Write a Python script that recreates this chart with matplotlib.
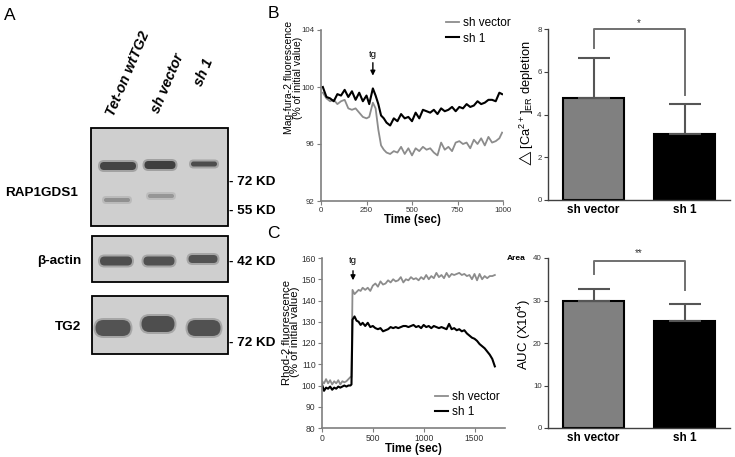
import matplotlib
matplotlib.use("Agg")
import matplotlib.pyplot as plt
from matplotlib.patches import Rectangle, FancyBboxPatch

plt.rcParams['font.family'] = ['Liberation Sans', 'DejaVu Sans']
plt.rcParams['mathtext.default'] = 'regular'

# ---- data ----
groups = ["sh vector", "sh 1"]

# B: Mag-fura-2 trace
b_time = [10, 30, 50, 70, 90, 110, 130, 150, 170, 190, 210, 230, 250, 265, 285, 300,
          315, 330, 345, 360, 380, 400, 420, 440, 460, 480, 500, 520, 540, 560, 580,
          600, 620, 640, 660, 680, 700, 720, 740, 760, 780, 800, 820, 840, 860, 880,
          900, 920, 940, 960, 980, 995]
b_vector = [99.6, 99.2, 99.0, 99.1, 98.8, 99.0, 99.1, 98.5, 98.4, 98.5, 98.2, 97.9, 97.8,
            97.9, 98.9, 98.5, 97.0, 95.9, 95.6, 95.4, 95.3, 95.5, 95.4, 95.8, 95.3, 95.7,
            95.2, 95.7, 95.5, 95.8, 95.6, 95.7, 95.4, 95.2, 96.1, 95.6, 95.8, 95.5, 96.1,
            96.2, 96.0, 96.1, 95.7, 96.3, 96.0, 96.4, 95.9, 96.5, 96.1, 96.2, 96.4, 96.8]
b_sh1 = [100.0, 99.3, 99.2, 99.0, 99.5, 99.4, 99.8, 99.3, 99.7, 99.1, 99.6, 99.0, 99.4,
         98.8, 99.9, 99.4, 98.8, 98.0, 97.8, 97.5, 97.3, 97.8, 97.6, 98.1, 97.8, 97.9,
         97.6, 98.2, 97.8, 98.4, 98.3, 98.2, 98.4, 98.1, 98.5, 98.3, 98.4, 98.6, 98.3,
         98.6, 98.5, 98.8, 98.6, 98.7, 99.0, 98.8, 98.9, 99.1, 99.1, 99.0, 99.6, 99.5]
b_tg = 285

# B: ER depletion bars
b_means = [4.75, 3.08]
b_errs = [1.87, 1.42]

# C: Rhod-2 trace
c_time = ([0, 20, 40, 60, 80, 100, 120, 140, 160, 180, 200, 220, 240, 260, 280, 290, 300,
           320, 340, 360, 380, 400] + list(range(425, 1701, 25)))
c_vector = [102, 101, 103, 101, 102.5, 100.5, 102, 101, 102.5, 100.5, 102, 101.5, 102, 103, 104,
            104, 145,
            143, 144, 145, 144.5, 146,
            145, 146, 144.5, 147, 148, 146.5, 149, 147.5, 148, 149.5, 148.5, 150, 149, 149.5,
            151, 148.5, 150, 149.5, 151, 150, 150.5, 149.5, 151, 150, 152, 150, 151.5, 150.5,
            153, 151, 152, 150.5, 153, 151, 152.5, 152, 152.5, 153, 152, 152.5, 151.5, 152,
            150, 152.5, 149.5, 152.5, 150, 151.5, 150.5, 151.5, 151.5, 152]
c_sh1 = [100.5, 97.5, 99, 98.5, 99.5, 98, 99, 98.5, 99.5, 99, 99.5, 100, 99.5, 100, 100,
         100.5, 131,
         132.5, 130.5, 130, 128.5, 129.5,
         128, 129.5, 127.5, 128, 127, 126.5, 127, 125.5, 126, 126.5, 127.5, 127, 127.5, 127,
         127.5, 128, 128, 127.5, 128, 128.5, 127.5, 128, 127, 128.5, 127.5, 128, 127, 128,
         127.5, 127, 127.5, 127, 126.5, 129, 126.5, 127, 126, 126.5, 125.5, 126, 124.5, 123.5,
         122.5, 122, 121, 119.5, 118.5, 117.5, 116, 114.5, 112.5, 109]
c_tg = 305

# C: AUC bars
c_means = [29.8, 25.2]
c_errs = [3.0, 4.0]

bar_colors = ["#808080", "#000000"]
line_colors = ["#8c8c8c", "#000000"]

W, H = 735, 457
fig = plt.figure(figsize=(W / 100, H / 100), dpi=100)


def px_axes(x0, y0, x1, y1):
    return fig.add_axes([x0 / W, 1 - y1 / H, (x1 - x0) / W, (y1 - y0) / H])


# ---- panel A: blots drawn in pixel space ----
ax0 = fig.add_axes([0, 0, 1, 1])
ax0.set_xlim(0, W)
ax0.set_ylim(H, 0)
ax0.axis("off")

blots = [  # box x0, y0, x1, y1
    (91, 128, 228, 226),
    (92, 236, 228, 282),
    (92, 296, 228, 354),
]
# bands: (center x, center y, width, height, color)
bands = [
    (118, 166, 38, 10, "#3a3a3a"), (160, 165, 33, 10, "#353535"), (204, 164, 28, 7, "#444444"),
    (117, 200, 28, 6, "#8c8c8c"), (161, 196, 28, 6, "#929292"),
    (116, 261, 34, 11, "#454545"), (159, 261, 33, 11, "#484848"), (203, 259, 31, 10, "#4a4a4a"),
    (113, 328, 37, 18, "#4a4a4a"), (158, 324, 35, 18, "#454545"), (204, 328, 35, 18, "#484848"),
]
for x0, y0, x1, y1 in blots:
    ax0.add_patch(Rectangle((x0, y0), x1 - x0, y1 - y0, facecolor="#cfcfcf",
                            edgecolor="black", lw=1.3))
for cx, cy, w, h, col in bands:
    ax0.add_patch(FancyBboxPatch((cx - w / 2 - 1, cy - h / 2 - 1), w + 2, h + 2,
                                 boxstyle=f"round,pad=0,rounding_size={h / 2 + 1}",
                                 facecolor=col, edgecolor="none", alpha=0.3))
    ax0.add_patch(FancyBboxPatch((cx - w / 2 + 1, cy - h / 2 + 1), w - 2, h - 2,
                                 boxstyle=f"round,pad=0,rounding_size={max(h / 2 - 1, 0.5)}",
                                 facecolor=col, edgecolor="none", alpha=0.9))

bold = dict(fontweight="bold", fontsize=9.7)
ax0.text(5, 193, "RAP1GDS1", ha="left", va="center", **bold)
ax0.text(81, 261, "β-actin", ha="right", va="center", **bold)
ax0.text(81, 327, "TG2", ha="right", va="center", **bold)
for y, s in [(182, "- 72 KD"), (211, "- 55 KD"), (262, "- 42 KD"), (343, "- 72 KD")]:
    ax0.text(229, y, s, ha="left", va="center", **bold)
for x, y, s in [(114, 117, "Tet-on wtTG2"), (159, 114, "sh vector"), (202, 87, "sh 1")]:
    ax0.text(x, y, s, rotation=67, rotation_mode="anchor", ha="left", va="baseline",
             fontweight="bold", fontstyle="italic", fontsize=10.3)
ax0.text(10, 15, "A", fontsize=12.5, ha="center", va="center")
ax0.text(273, 13, "B", fontsize=12.5, ha="center", va="center")
ax0.text(273, 233, "C", fontsize=12.5, ha="center", va="center")


def style_line_axes(ax, tick_size):
    for s in ["top", "right"]:
        ax.spines[s].set_visible(False)
    for s in ["left", "bottom"]:
        ax.spines[s].set_color("#7f7f7f")
        ax.spines[s].set_linewidth(1.2)
    ax.tick_params(length=3, width=0.8, color="#7f7f7f", labelsize=tick_size, pad=1.5,
                   labelcolor="#333333")


def style_bar_axes(ax):
    for s in ["top", "right"]:
        ax.spines[s].set_visible(False)
    for s in ["left", "bottom"]:
        ax.spines[s].set_color("#404040")
        ax.spines[s].set_linewidth(1.0)
    ax.tick_params(axis="y", length=3, width=0.8, color="#404040", labelsize=5.7, pad=1.5,
                   labelcolor="#333333")
    ax.tick_params(axis="x", length=0, pad=3)


# ---- B line ----
axb = px_axes(321, 30, 503, 201)
axb.plot(b_time, b_vector, color=line_colors[0], lw=1.3, label=groups[0])
axb.plot(b_time, b_sh1, color=line_colors[1], lw=1.5, label=groups[1])
axb.set_xlim(0, 1000)
axb.set_ylim(92, 104)
axb.set_xticks([0, 250, 500, 750, 1000])
axb.set_yticks([92, 96, 100, 104])
style_line_axes(axb, 5.7)
axb.set_xlabel("Time (sec)", fontweight="bold", fontsize=8.3, labelpad=0)
axb.set_ylabel("Mag-fura-2 fluorescence\n(% of initial value)", fontsize=7.5,
               linespacing=0.85)
axb.yaxis.set_label_coords(-0.1, 0.72)
axb.annotate("", xy=(b_tg, 100.6), xytext=(b_tg, 101.9),
             arrowprops=dict(arrowstyle="-|>", color="black", lw=1, mutation_scale=7))
axb.text(b_tg, 102.3, "tg", ha="center", va="center", fontsize=6.8)
axb.legend(loc="upper left", bbox_to_anchor=(446 / W, 1 - 17 / H),
           bbox_transform=fig.transFigure, frameon=False, fontsize=8.5,
           handlelength=1.1, handletextpad=0.3, labelspacing=0.3, borderpad=0,
           borderaxespad=0)

# ---- B bars ----
axbb = px_axes(548, 29, 730, 200)
xpos = [0, 1]
axbb.bar(xpos, b_means, width=0.67, color=bar_colors, edgecolor="black", lw=1.5, zorder=2)
for x, m, e in zip(xpos, b_means, b_errs):
    axbb.errorbar(x, m, yerr=[[0], [e]], color="#555555", lw=1.5, capsize=11.5,
                  capthick=1.5, zorder=3)
axbb.set_xlim(-0.5, 1.5)
axbb.set_ylim(0, 8)
axbb.set_yticks([0, 2, 4, 6, 8])
axbb.set_xticks(xpos)
axbb.set_xticklabels(groups, fontweight="bold", fontsize=8.5)
style_bar_axes(axbb)
axbb.set_ylabel(r"$\triangle$[Ca$^{2+}$]$_{ER}$ depletion", fontsize=9.3)
axbb.yaxis.set_label_coords(-0.068, 0.56)
axbb.plot([0, 0, 1, 1], [7.1, 8.0, 8.0, 4.9], color="#707070", lw=1.4, clip_on=False)
axbb.text(0.5, 8.05, "*", ha="center", va="bottom", fontsize=7, color="#333333")

# ---- C line ----
axc = px_axes(322, 258, 505, 428)
axc.plot(c_time, c_vector, color=line_colors[0], lw=1.3, label=groups[0])
axc.plot(c_time, c_sh1, color=line_colors[1], lw=1.5, label=groups[1])
axc.set_xlim(0, 1800)
axc.set_ylim(80, 160)
axc.set_xticks([0, 500, 1000, 1500])
axc.set_yticks(range(80, 161, 10))
style_line_axes(axc, 6.2)
axc.set_xlabel("Time (sec)", fontweight="bold", fontsize=8.3, labelpad=0)
axc.set_ylabel("Rhod-2 fluorescence\n(% of initial value)", fontsize=8.2, linespacing=0.85)
axc.yaxis.set_label_coords(-0.118, 0.565)
axc.annotate("", xy=(c_tg, 148.2), xytext=(c_tg, 155.3),
             arrowprops=dict(arrowstyle="-|>", color="black", lw=1, mutation_scale=7))
axc.text(c_tg, 159, "tg", ha="center", va="center", fontsize=6.8)
axc.legend(loc="upper left", bbox_to_anchor=(435 / W, 1 - 391 / H),
           bbox_transform=fig.transFigure, frameon=False, fontsize=8.5,
           handlelength=1.1, handletextpad=0.3, labelspacing=0.25, borderpad=0,
           borderaxespad=0)

# ---- C bars ----
axcb = px_axes(548, 258, 730, 428)
axcb.bar(xpos, c_means, width=0.67, color=bar_colors, edgecolor="black", lw=1.5, zorder=2)
for x, m, e in zip(xpos, c_means, c_errs):
    axcb.errorbar(x, m, yerr=[[0], [e]], color="#555555", lw=1.5, capsize=11.5,
                  capthick=1.5, zorder=3)
axcb.set_xlim(-0.5, 1.5)
axcb.set_ylim(0, 40)
axcb.set_yticks([0, 10, 20, 30, 40])
axcb.set_xticks(xpos)
axcb.set_xticklabels(groups, fontweight="bold", fontsize=8.5)
style_bar_axes(axcb)
axcb.set_ylabel("AUC (X10$^4$)", fontsize=9.5)
axcb.yaxis.set_label_coords(-0.085, 0.55)
axcb.plot([0, 0, 1, 1], [36.2, 39.4, 39.4, 32.5], color="#707070", lw=1.4, clip_on=False)
axcb.text(0.5, 40.0, "**", ha="center", va="bottom", fontsize=7, color="#333333")
axcb.text(-0.75, 40, "Area", ha="right", va="center", fontsize=6, fontweight="bold")

fig.savefig("out.png", dpi=100)
